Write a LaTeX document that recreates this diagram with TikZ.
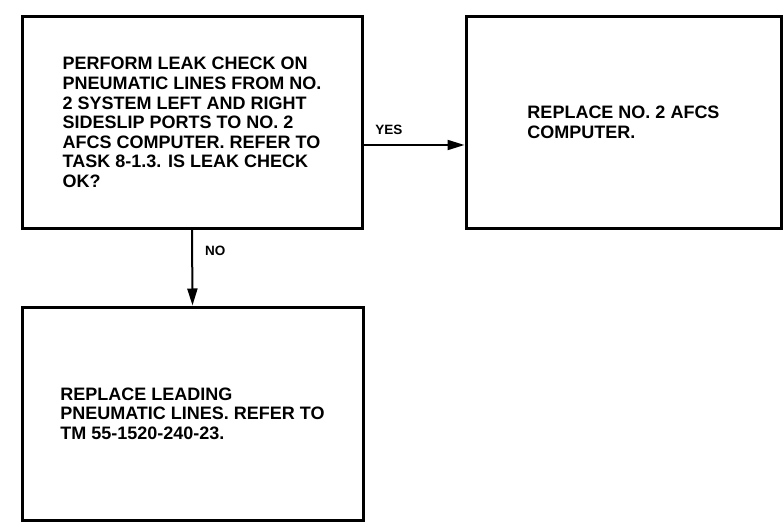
\documentclass[tikz,border=0pt]{standalone}
\usepackage{fontspec}
\setmainfont{Liberation Sans}
\usetikzlibrary{arrows.meta}

\begin{document}
\begin{tikzpicture}[x=1pt, y=-1pt,
  blk/.style = {rectangle, draw=black, line width=3pt,
                align=left, inner sep=0pt,
                minimum width=340pt, minimum height=212pt,
                font=\fontsize{18}{19.6}\selectfont\bfseries},
  lbl/.style = {font=\fontsize{13.5}{14}\selectfont\bfseries, inner sep=2pt},
  arr/.style = {-{Triangle[length=17pt, width=10pt]}, line width=2pt}
]
\useasboundingbox (0,0) rectangle (783,526);
\node[blk] (chk) at (192,122.5) {PERFORM LEAK CHECK ON\\
  PNEUMATIC LINES FROM NO.\\
  2 SYSTEM LEFT AND RIGHT\\
  SIDESLIP PORTS TO NO. 2\\
  AFCS COMPUTER. REFER TO\\
  TASK 8-1.3. IS LEAK CHECK\\
  OK?};
\node[blk, minimum width=315pt] (rep) at (623.5,122.5) {REPLACE NO. 2 AFCS\\
  COMPUTER.};
\node[blk, minimum width=341pt, minimum height=213pt] (lead) at (192.5,413.5) {REPLACE LEADING\\
  PNEUMATIC LINES. REFER TO\\
  TM 55-1520-240-23.};
\draw[arr] ([yshift=-22.5pt]chk.east) -- ([yshift=-22.5pt]chk.east -| rep.west)
  node[lbl, pos=0.25, above=7pt] {YES};
\draw[arr] (chk.south) -- (lead.north)
  node[lbl, pos=0.27, right=10pt] {NO};
\end{tikzpicture}
\end{document}
